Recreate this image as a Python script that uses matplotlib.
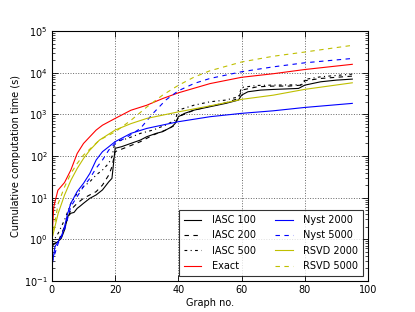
import matplotlib
matplotlib.use("Agg")
import matplotlib.pyplot as plt

# IASC runs (three batch sizes)
iasc100_x = [0, 1, 2, 3, 4, 5, 6, 7, 8, 9, 10, 12, 14, 16, 18, 19, 20, 22, 25, 28, 30, 33, 35, 38, 39,
             40, 42, 45, 50, 55, 59, 60, 62, 66, 70, 78, 80, 85, 90, 95]
iasc100_y = [0.67, 0.80, 0.88, 1.06, 1.67, 3.5, 4.2, 4.4, 5.5, 6.3, 7.3, 9.6, 11.6, 15.3, 24, 29, 153, 167,
             201, 242, 291, 350, 384, 506, 608, 880, 1060, 1270, 1530, 1840, 2210, 2910, 3500, 3840, 3980,
             4210, 5060, 6080, 6670, 7050]

iasc200_x = [0, 2, 4, 6, 8, 10, 12, 14, 16, 18, 19, 20, 24, 28, 32, 36, 39, 40, 45, 50, 55, 59, 60, 65,
             70, 75, 79, 80, 85, 95]
iasc200_y = [0.73, 0.88, 2.0, 5.1, 7.3, 9.6, 11.6, 13.9, 20, 35, 55, 127, 167, 221, 319, 421, 555, 880,
             1270, 1580, 1900, 2420, 3840, 4610, 4790, 4790, 5060, 6430, 7310, 8320]

iasc500_x = [0, 2, 4, 6, 8, 10, 12, 14, 16, 18, 19, 20, 24, 28, 32, 36, 39, 40, 45, 50, 55, 59, 60, 65,
             70, 79, 80, 85, 95]
iasc500_y = [0.80, 1.39, 2.9, 7.3, 12.7, 18.4, 24, 35, 46, 67, 96, 221, 265, 350, 421, 555, 731, 1270,
             1670, 2010, 2210, 2650, 4450, 4970, 5060, 5150, 6920, 8020, 9290]

exact_x = [0, 0.6, 1.9, 4, 6, 8, 10, 12, 14, 16, 20, 25, 30, 35, 40, 50, 60, 70, 80, 95]
exact_y = [1.0, 6.0, 15, 23, 46, 115, 200, 290, 420, 550, 800, 1260, 1660, 2400, 3300, 5500, 7800,
           9500, 12000, 16000]

nyst2000_x = [0, 1, 2, 3, 4, 5, 6, 8, 10, 12, 14, 16, 18, 20, 25, 30, 35, 40, 50, 60, 70, 80, 95]
nyst2000_y = [0.22, 0.67, 0.88, 1.16, 2.0, 4.2, 7.3, 14, 22, 38, 80, 127, 167, 221, 350, 460, 555, 667,
              880, 1060, 1220, 1470, 1840]

nyst5000_x = [0, 2, 4, 6, 8, 10, 12, 14, 16, 18, 20, 24, 28, 32, 36, 40, 45, 50, 60, 70, 80, 95]
nyst5000_y = [0.27, 0.80, 1.67, 6.1, 10.6, 18.4, 29, 51, 80, 139, 201, 291, 461, 1060, 2210, 3700, 5550,
              7310, 10600, 13900, 17400, 22100]

rsvd2000_x = [0, 2, 4, 6, 8, 10, 12, 15, 20, 25, 30, 40, 50, 60, 70, 80, 95]
rsvd2000_y = [1.0, 4.2, 11.5, 26, 50, 87, 138, 240, 420, 600, 800, 1150, 1600, 2300, 2900, 4000, 5750]

rsvd5000_x = [0, 2, 4, 6, 8, 10, 15, 20, 25, 30, 35, 40, 45, 50, 60, 70, 80, 95]
rsvd5000_y = [1.0, 7.2, 18, 38, 66, 105, 240, 380, 720, 1500, 2900, 5000, 7900, 11200, 18200, 25000,
              31600, 45700]

YELLOW = (0.75, 0.75, 0.0)
DASHED = (0, (4, 4))
DASHDOT = (0, (2.5, 3, 1, 3))

series = [
    ("IASC 100", iasc100_x, iasc100_y, "k", "-"),
    ("IASC 200", iasc200_x, iasc200_y, "k", DASHED),
    ("IASC 500", iasc500_x, iasc500_y, "k", DASHDOT),
    ("Exact", exact_x, exact_y, "r", "-"),
    ("Nyst 2000", nyst2000_x, nyst2000_y, "b", "-"),
    ("Nyst 5000", nyst5000_x, nyst5000_y, "b", DASHED),
    ("RSVD 2000", rsvd2000_x, rsvd2000_y, YELLOW, "-"),
    ("RSVD 5000", rsvd5000_x, rsvd5000_y, YELLOW, DASHED),
]

plt.rcParams["font.size"] = 7
plt.rcParams["xtick.direction"] = "in"
plt.rcParams["ytick.direction"] = "in"
plt.rcParams["xtick.top"] = True
plt.rcParams["ytick.right"] = True

fig = plt.figure(figsize=(4.15, 3.12), dpi=100)
ax = fig.add_axes([0.125, 0.1, 0.762, 0.8])

for label, xs, ys, color, ls in series:
    ax.plot(xs, ys, color=color, linestyle=ls, linewidth=0.8, label=label)

ax.set_yscale("log")
ax.set_xlim(0, 100)
ax.set_ylim(1e-1, 1e5)
ax.set_xticks([0, 20, 40, 60, 80, 100])
ax.grid(True, which="major", color="0.4", linestyle=":", linewidth=0.7)
ax.set_xlabel("Graph no.", labelpad=2)
ax.set_ylabel("Cumulative computation time (s)", labelpad=2)
ax.tick_params(which="major", length=4, width=0.6, pad=3)
ax.tick_params(which="minor", length=2, width=0.5)
for sp in ax.spines.values():
    sp.set_linewidth(0.8)

leg = ax.legend(loc="lower right", ncol=2, fontsize=7, fancybox=False, frameon=True,
                edgecolor="k", handlelength=1.8, columnspacing=2.0, borderaxespad=0.5,
                labelspacing=0.55, handletextpad=1.1, borderpad=0.5)
leg.get_frame().set_linewidth(0.8)

fig.savefig("out.png", dpi=100)
